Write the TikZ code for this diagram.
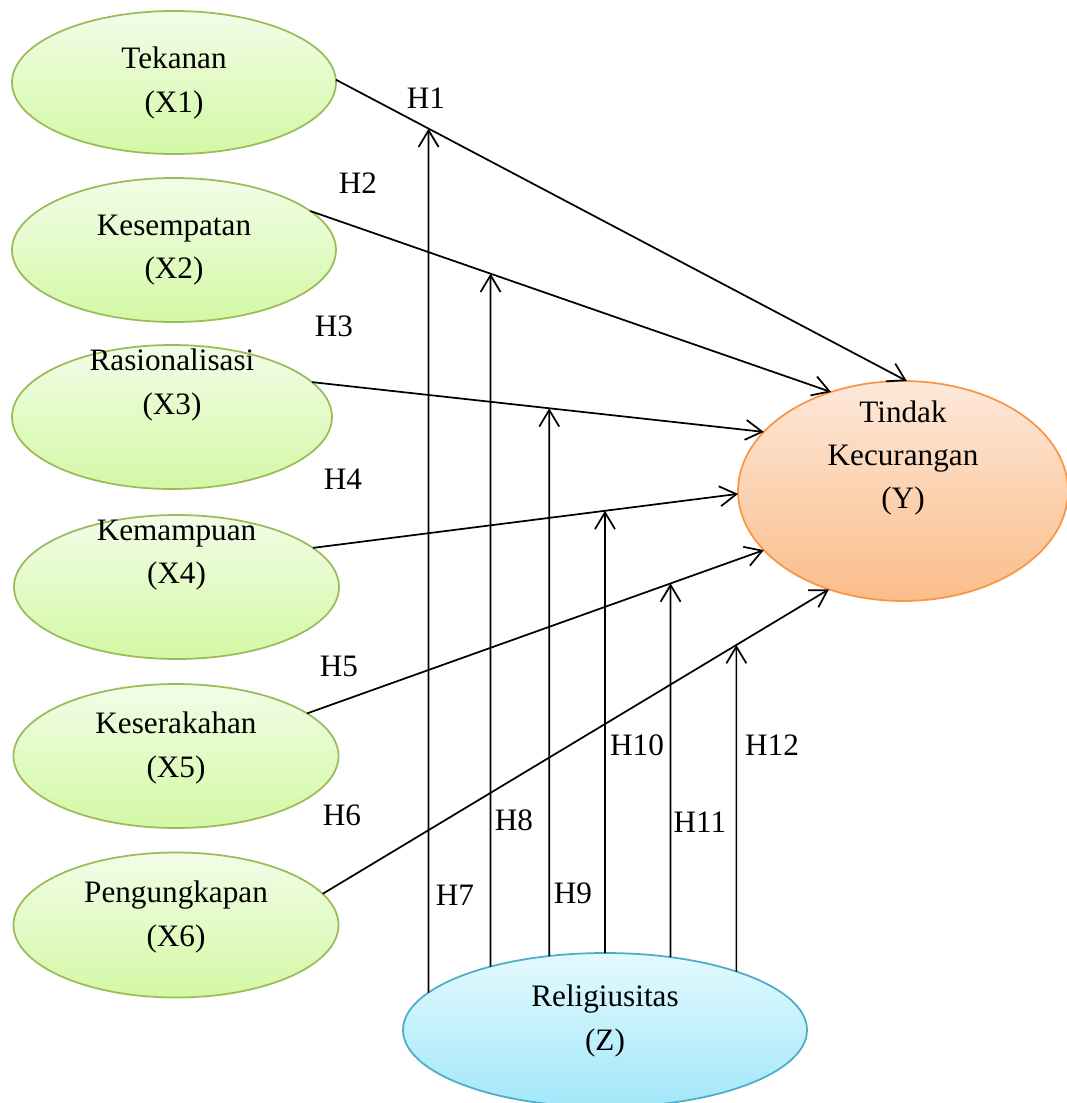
\documentclass[tikz,border=0pt]{standalone}
\usepackage{fontspec}
\setmainfont{Liberation Serif}
\usetikzlibrary{arrows.meta,shapes.geometric,intersections}
\definecolor{grBorder}{HTML}{9BBB59}
\definecolor{grTop}{HTML}{F2FDE8}
\definecolor{grBot}{HTML}{D3F8A4}
\definecolor{orBorder}{HTML}{F79646}
\definecolor{orTop}{HTML}{FDE8DA}
\definecolor{orBot}{HTML}{FBBD89}
\definecolor{blBorder}{HTML}{4BACC6}
\definecolor{blTop}{HTML}{E3FAFE}
\definecolor{blBot}{HTML}{A2E7FA}
\begin{document}
\begin{tikzpicture}[x=0.75pt,y=-0.75pt,
  sz/.style 2 args={minimum width={#1*0.75pt}, minimum height={#2*0.75pt}},
  ell/.style={ellipse, line width=1.3pt, inner sep=0pt, outer sep=0pt},
  gre/.style={ell, draw=grBorder, top color=grTop, bottom color=grBot},
  ora/.style={ell, draw=orBorder, top color=orTop, bottom color=orBot},
  blu/.style={ell, draw=blBorder, top color=blTop, bottom color=blBot},
  txt/.style={align=center, font=\fontsize{23.4pt}{32.6pt}\selectfont, inner sep=0pt},
  lab/.style={font=\fontsize{23.4pt}{32.6pt}\selectfont, inner sep=0pt},
  arr/.style={line width=1.3pt, -{Straight Barb[length=12.5pt,width=15pt,line width=1.3pt]}}
]
\useasboundingbox (0,0) rectangle (1067,1103);

% ellipses
\node[gre, sz={324}{143}] (x1) at (174,82.5) {};
\node[gre, sz={324}{144}] (x2) at (174,250) {};
\node[gre, sz={320}{144}] (x3) at (172,417) {};
\node[gre, sz={325}{144}] (x4) at (176.5,587) {};
\node[gre, sz={325}{144}] (x5) at (176,756) {};
\node[gre, sz={325}{145}] (x6) at (176,925) {};
\node[ora, sz={330}{220}] (y) at (903,491) {};
\node[blu, sz={404}{154}] (z) at (605,1030) {};

% texts
\node[txt] (tx1) at (174,83) {Tekanan\\(X1)};
\node[txt] (tx2) at (174,250) {Kesempatan\\(X2)};
\node[txt] (tx3) at (172,385) {Rasionalisasi\\(X3)};
\node[txt] (tx4) at (176.5,555) {Kemampuan\\(X4)};
\node[txt] (tx5) at (176,748) {Keserakahan\\(X5)};
\node[txt] (tx6) at (176,917) {Pengungkapan\\(X6)};
\node[txt] (ty) at (903,458) {Tindak\\Kecurangan\\(Y)};
\node[txt] (tz) at (605,1021) {Religiusitas\\(Z)};

% direct paths
\draw[arr, name path=l1] (x1.1) -- (y.88);
\draw[arr, name path=l2] (x2.16.5) -- (y.126.4);
\draw[arr, name path=l3] (x3.14.4) -- (y.157.6);
\draw[arr, name path=l4] (x4.16.1) -- (y.181);
\draw[arr, name path=l5] (x5.18.2) -- (y.203.1);
\draw[arr, name path=l6] (x6.12.5) -- (y.233.6);

% moderation paths
\path[name path=v7] (z.168.2) -- ++(0,-1000);
\path[name path=v8] (z.151.5) -- ++(0,-1000);
\path[name path=v9] (z.127.6) -- ++(0,-1000);
\path[name path=v10] (z.90) -- ++(0,-1000);
\path[name path=v11] (z.48.8) -- ++(0,-1000);
\path[name path=v12] (z.24.7) -- ++(0,-1000);
\path[name intersections={of=l1 and v7, by=t7}];
\path[name intersections={of=l2 and v8, by=t8}];
\path[name intersections={of=l3 and v9, by=t9}];
\path[name intersections={of=l4 and v10, by=t10}];
\path[name intersections={of=l5 and v11, by=t11}];
\path[name intersections={of=l6 and v12, by=t12}];
\draw[arr] (z.168.2) -- (t7);
\draw[arr] (z.151.5) -- (t8);
\draw[arr] (z.127.6) -- (t9);
\draw[arr] (z.90) -- (t10);
\draw[arr] (z.48.8) -- (t11);
\draw[arr] (z.24.7) -- (t12);

% labels
\node[lab] (h1) at (426,98) {H1};
\node[lab] (h2) at (358,183) {H2};
\node[lab] (h3) at (334,326) {H3};
\node[lab] (h4) at (343,479) {H4};
\node[lab] (h5) at (339,666) {H5};
\node[lab] (h6) at (342,815) {H6};
\node[lab] (h7) at (455,895) {H7};
\node[lab] (h8) at (514,820) {H8};
\node[lab] (h9) at (573,893) {H9};
\node[lab] (h10) at (637,745) {H10};
\node[lab] (h11) at (700,822) {H11};
\node[lab] (h12) at (772,745) {H12};
\end{tikzpicture}
\end{document}
